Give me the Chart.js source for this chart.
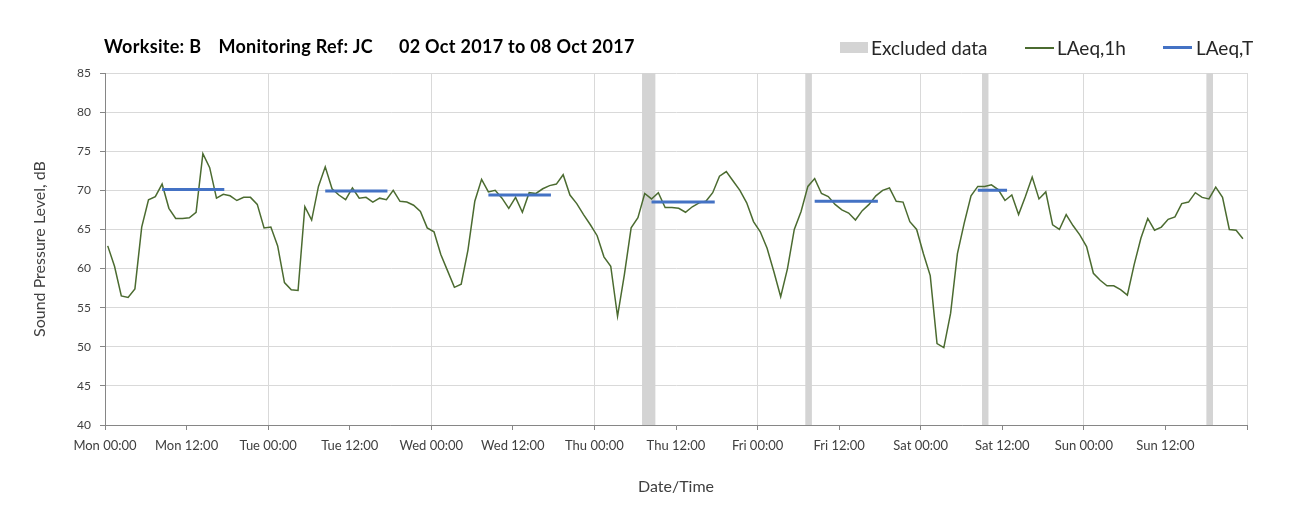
<!DOCTYPE html>
<html lang="en">
<head>
<meta charset="UTF-8" />
<title>Worksite B - noise monitoring</title>
<script src="https://cdn.jsdelivr.net/npm/chart.js"></script>
<style>
  body { margin: 0; background: #fff; font-family: Lato, "Open Sans", sans-serif; }
  #wrap { position: relative; width: 1311px; height: 519px; }
  #chart { position: absolute; left: 0; top: 0; }
  #title { position: absolute; left: 104px; top: 35px; font-size: 18px; letter-spacing: 0.3px; font-weight: bold; color: #000; white-space: pre; line-height: 22px; }
  #title span + span { margin-left: 17px; }
  #title span.dates { margin-left: 26px; }
  .key { position: absolute; top: 37px; font-size: 19px; color: #262626; line-height: 22px; }
  .swatch { position: absolute; }
</style>
</head>
<body>
<div id="wrap">
  <canvas id="chart" width="1311" height="519"></canvas>
  <div id="title"><span>Worksite: B</span><span>Monitoring Ref: JC</span><span class="dates">02 Oct 2017 to 08 Oct 2017</span></div>
  <div class="swatch" style="left:840px;top:42px;width:28px;height:11px;background:#d4d4d4"></div>
  <div class="key" style="left:871px">Excluded data</div>
  <div class="swatch" style="left:1025px;top:47px;width:29px;height:1.5px;background:#4b6b30"></div>
  <div class="key" style="left:1057px">LAeq,1h</div>
  <div class="swatch" style="left:1163px;top:46px;width:29px;height:3px;background:#4472c4"></div>
  <div class="key" style="left:1196px">LAeq,T</div>
</div>

<script>
// hourly LAeq,1h values, Mon 00:00 .. Sun 23:00
const lAeq1h = [
  62.9, 60.3, 56.5, 56.3, 57.4, 65.3, 68.8, 69.2, 70.8, 67.7, 66.4, 66.4, 66.5, 67.2, 74.7, 72.9, 69.0, 69.5, 69.3, 68.7, 69.1, 69.1, 68.2, 65.2,
  65.3, 62.9, 58.2, 57.3, 57.2, 67.9, 66.2, 70.5, 73.0, 70.2, 69.4, 68.8, 70.3, 69.0, 69.1, 68.5, 69.0, 68.8, 70.0, 68.6, 68.5, 68.1, 67.3, 65.2,
  64.7, 61.8, 59.7, 57.6, 58.0, 62.4, 68.6, 71.4, 69.8, 70.0, 69.0, 67.7, 69.1, 67.2, 69.7, 69.6, 70.2, 70.6, 70.8, 72.0, 69.4, 68.3, 66.9, 65.6,
  64.2, 61.5, 60.3, 53.9, 59.2, 65.2, 66.5, 69.6, 68.9, 69.7, 67.8, 67.8, 67.7, 67.2, 67.9, 68.4, 68.6, 69.7, 71.8, 72.4, 71.2, 70.0, 68.4, 66.0,
  64.7, 62.6, 59.6, 56.4, 60.0, 65.0, 67.3, 70.5, 71.5, 69.6, 69.2, 68.2, 67.5, 67.1, 66.2, 67.4, 68.2, 69.3, 70.0, 70.3, 68.6, 68.5, 66.0, 65.0,
  61.9, 59.1, 50.4, 49.9, 54.3, 61.9, 65.8, 69.3, 70.5, 70.5, 70.7, 70.1, 68.7, 69.4, 66.9, 69.2, 71.7, 68.9, 69.8, 65.6, 65.0, 66.9, 65.5, 64.3,
  62.8, 59.4, 58.5, 57.8, 57.8, 57.3, 56.6, 60.5, 63.9, 66.4, 64.9, 65.3, 66.3, 66.6, 68.3, 68.5, 69.7, 69.1, 68.9, 70.4, 69.1, 65.0, 64.9, 63.8
];
const pointOffset = 0.4; // hours after the start of each hour

// LAeq,T periods (hours from Mon 00:00)
const tStart = [8.4, 32.4, 56.4, 80.4, 104.4, 128.4];
const tEnd   = [17.55, 41.55, 65.6, 89.7, 113.7, 132.7];
const tLevel = [70.1, 69.9, 69.4, 68.5, 68.6, 70.0];

// excluded periods (hours from Mon 00:00)
const exclStart = [79, 103, 129, 162];
const exclEnd   = [81, 104, 130, 163];

const tickLabels = ['Mon 00:00', 'Mon 12:00', 'Tue 00:00', 'Tue 12:00', 'Wed 00:00', 'Wed 12:00',
  'Thu 00:00', 'Thu 12:00', 'Fri 00:00', 'Fri 12:00', 'Sat 00:00', 'Sat 12:00', 'Sun 00:00', 'Sun 12:00'];

const yMin = 40, yMax = 85;

const hourlyPts = lAeq1h.map((v, i) => ({ x: i + pointOffset, y: v }));

const periodPts = [];
tStart.forEach((s, i) => {
  periodPts.push({ x: s, y: tLevel[i] }, { x: tEnd[i], y: tLevel[i] }, { x: tEnd[i], y: null });
});

const exclSets = exclStart.map((s, i) => ({
  label: 'Excluded data',
  data: [{ x: s, y: yMax }, { x: exclEnd[i], y: yMax }],
  borderWidth: 0,
  pointRadius: 0,
  backgroundColor: '#d4d4d4',
  fill: 'start',
  order: 3
}));

const axisGrey = '#868686';
const gridGrey = '#d9d9d9';

new Chart(document.getElementById('chart'), {
  type: 'line',
  data: {
    datasets: [
      ...exclSets,
      { label: 'LAeq,1h', data: hourlyPts, borderColor: '#4b6b30', borderWidth: 1.5, pointRadius: 0, fill: false, order: 2 },
      { label: 'LAeq,T', data: periodPts, borderColor: '#4472c4', borderWidth: 3, pointRadius: 0, fill: false, spanGaps: false, order: 1 }
    ]
  },
  options: {
    responsive: false,
    animation: false,
    layout: { padding: { top: 73, right: 64, bottom: 20, left: 20 } },
    plugins: { legend: { display: false }, tooltip: { enabled: false } },
    scales: {
      x: {
        type: 'linear',
        min: 0,
        max: 168,
        afterFit: s => { s.height = 74; },
        border: { color: axisGrey },
        grid: {
          color: c => (c.tick && c.tick.value % 24 === 0) ? gridGrey : 'rgba(0,0,0,0)',
          tickColor: axisGrey,
          tickLength: 5
        },
        ticks: {
          stepSize: 12,
          autoSkip: false,
          maxRotation: 0,
          padding: 8,
          color: '#404040',
          font: { family: 'Lato', size: 13 },
          callback: v => tickLabels[v / 12] ?? ''
        },
        title: { display: true, text: 'Date/Time', color: '#404040', font: { family: 'Lato', size: 16 }, padding: { top: 0, bottom: 3 } }
      },
      y: {
        min: yMin,
        max: yMax,
        afterFit: s => { s.width = 85; },
        border: { color: axisGrey },
        grid: { color: gridGrey, tickColor: axisGrey, tickLength: 5 },
        ticks: { stepSize: 5, padding: 9, color: '#404040', font: { family: 'Lato', size: 12 } },
        title: { display: true, text: 'Sound Pressure Level, dB', color: '#404040', font: { family: 'Lato', size: 16 }, padding: { top: 10, bottom: 0 } }
      }
    }
  }
});
</script>
</body>
</html>
